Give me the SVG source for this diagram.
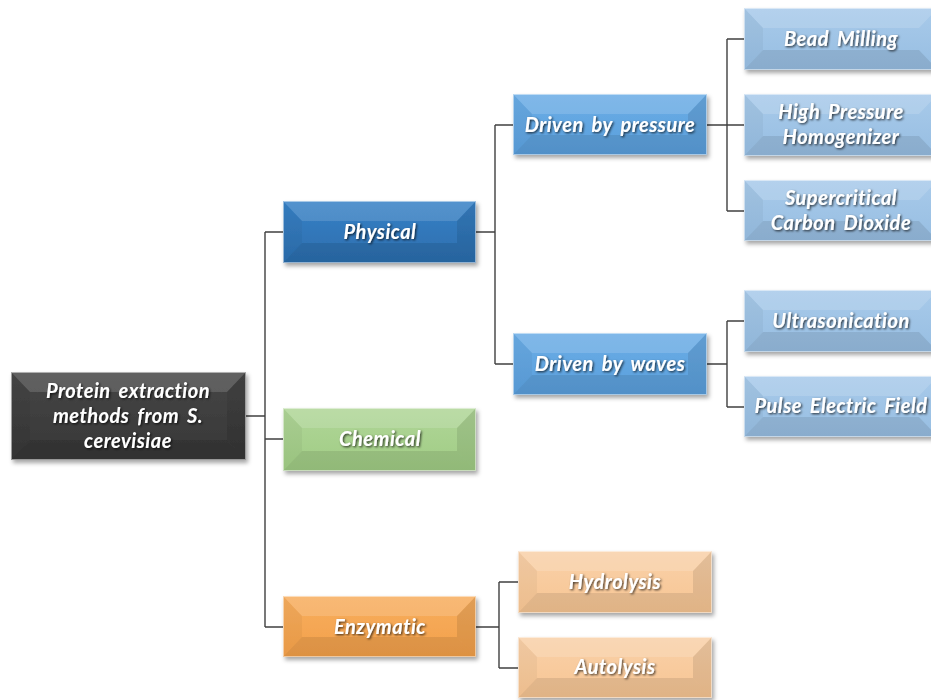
<svg xmlns="http://www.w3.org/2000/svg" width="931" height="700" viewBox="0 0 931 700">
<defs>
<filter id="ds" x="-10%" y="-20%" width="125%" height="150%">
<feDropShadow dx="2" dy="3" stdDeviation="2" flood-color="#000" flood-opacity="0.35"/>
</filter>
<filter id="ts" x="-10%" y="-30%" width="120%" height="160%">
<feDropShadow dx="1.2" dy="1.2" stdDeviation="0.9" flood-color="#000" flood-opacity="0.75"/>
</filter>
<linearGradient id="gRoot" x1="0" y1="0" x2="0" y2="1"><stop offset="0" stop-color="#474747"/><stop offset="1" stop-color="#363636"/></linearGradient>
<linearGradient id="gPhys" x1="0" y1="0" x2="0" y2="1"><stop offset="0" stop-color="#3781c6"/><stop offset="1" stop-color="#2c6eae"/></linearGradient>
<linearGradient id="gDrv" x1="0" y1="0" x2="0" y2="1"><stop offset="0" stop-color="#6bade6"/><stop offset="1" stop-color="#5a9fdc"/></linearGradient>
<linearGradient id="gLeaf" x1="0" y1="0" x2="0" y2="1"><stop offset="0" stop-color="#a8caea"/><stop offset="1" stop-color="#97bee2"/></linearGradient>
<linearGradient id="gChem" x1="0" y1="0" x2="0" y2="1"><stop offset="0" stop-color="#b0d698"/><stop offset="1" stop-color="#a0cc84"/></linearGradient>
<linearGradient id="gEnz" x1="0" y1="0" x2="0" y2="1"><stop offset="0" stop-color="#f7ae5f"/><stop offset="1" stop-color="#f3a049"/></linearGradient>
<linearGradient id="gSub" x1="0" y1="0" x2="0" y2="1"><stop offset="0" stop-color="#f9d1a9"/><stop offset="1" stop-color="#f7c593"/></linearGradient>
</defs>
<style>
.lbl{font-family:Lato,"Open Sans","Liberation Sans",sans-serif;font-weight:bold;font-style:italic;font-size:20px;letter-spacing:0.5px;word-spacing:3px;fill:#fff;text-anchor:middle;filter:url(#ts)}
.tf{fill:#fff;opacity:0.14}
.bf{fill:#000;opacity:0.09}
.sf{fill:#000;opacity:0.04}
.edge{stroke:rgba(255,255,255,0.5);stroke-width:1;fill:none}
.con{stroke:#404040;stroke-width:1.4;fill:none}
</style>

<g id="connectors">
<path class="con" d="M246 416 H265 M265 232 V627 M265 232 H283 M265 439 H283 M265 627 H283"/>
<path class="con" d="M476 232 H495 M495 125 V364 M495 125 H513 M495 364 H513"/>
<path class="con" d="M707 125 H727 M727 39 V211 M727 39 H744 M727 125 H744 M727 211 H744"/>
<path class="con" d="M707 364 H727 M727 321 V407 M727 321 H744 M727 407 H744"/>
<path class="con" d="M476 627 H499 M499 582 V668 M499 582 H518 M499 668 H518"/>
</g>

<g id="root">
<g filter="url(#ds)">
<rect x="11" y="372" width="235" height="88" fill="url(#gRoot)"/>
<polygon class="tf" points="11,372 246,372 227,392 30,392"/>
<polygon class="bf" points="11,460 246,460 227,440 30,440"/>
<polygon class="sf" points="11,372 30,392 30,440 11,460"/>
<polygon class="bf" points="246,372 227,392 227,440 246,460"/>
<rect class="edge" x="11.5" y="372.5" width="234" height="87"/>
</g>
<text class="lbl" x="128" y="398">Protein extraction</text><text class="lbl" x="128" y="423">methods from S.</text><text class="lbl" x="128" y="448">cerevisiae</text>
</g>

<g id="physical">
<g filter="url(#ds)">
<rect x="283" y="201" width="193" height="62" fill="url(#gPhys)"/>
<polygon class="tf" points="283,201 476,201 457,221 302,221"/>
<polygon class="bf" points="283,263 476,263 457,243 302,243"/>
<polygon class="sf" points="283,201 302,221 302,243 283,263"/>
<polygon class="bf" points="476,201 457,221 457,243 476,263"/>
<rect class="edge" x="283.5" y="201.5" width="192" height="61"/>
</g>
<text class="lbl" x="380" y="239">Physical</text>
</g>

<g id="chemical">
<g filter="url(#ds)">
<rect x="283" y="408" width="193" height="63" fill="url(#gChem)"/>
<polygon class="tf" points="283,408 476,408 457,428 302,428"/>
<polygon class="bf" points="283,471 476,471 457,451 302,451"/>
<polygon class="sf" points="283,408 302,428 302,451 283,471"/>
<polygon class="bf" points="476,408 457,428 457,451 476,471"/>
<rect class="edge" x="283.5" y="408.5" width="192" height="62"/>
</g>
<text class="lbl" x="380" y="446">Chemical</text>
</g>

<g id="enzymatic">
<g filter="url(#ds)">
<rect x="283" y="596" width="193" height="61" fill="url(#gEnz)"/>
<polygon class="tf" points="283,596 476,596 457,616 302,616"/>
<polygon class="bf" points="283,657 476,657 457,637 302,637"/>
<polygon class="sf" points="283,596 302,616 302,637 283,657"/>
<polygon class="bf" points="476,596 457,616 457,637 476,657"/>
<rect class="edge" x="283.5" y="596.5" width="192" height="60"/>
</g>
<text class="lbl" x="380" y="634">Enzymatic</text>
</g>

<g id="pressure">
<g filter="url(#ds)">
<rect x="513" y="94" width="194" height="61" fill="url(#gDrv)"/>
<polygon class="tf" points="513,94 707,94 688,114 532,114"/>
<polygon class="bf" points="513,155 707,155 688,135 532,135"/>
<polygon class="sf" points="513,94 532,114 532,135 513,155"/>
<polygon class="bf" points="707,94 688,114 688,135 707,155"/>
<rect class="edge" x="513.5" y="94.5" width="193" height="60"/>
</g>
<text class="lbl" x="610" y="132">Driven by pressure</text>
</g>

<g id="waves">
<g filter="url(#ds)">
<rect x="513" y="333" width="194" height="62" fill="url(#gDrv)"/>
<polygon class="tf" points="513,333 707,333 688,353 532,353"/>
<polygon class="bf" points="513,395 707,395 688,375 532,375"/>
<polygon class="sf" points="513,333 532,353 532,375 513,395"/>
<polygon class="bf" points="707,333 688,353 688,375 707,395"/>
<rect class="edge" x="513.5" y="333.5" width="193" height="61"/>
</g>
<text class="lbl" x="610" y="371">Driven by waves</text>
</g>

<g id="bead">
<g filter="url(#ds)">
<rect x="744" y="8" width="194" height="62" fill="url(#gLeaf)"/>
<polygon class="tf" points="744,8 938,8 919,28 763,28"/>
<polygon class="bf" points="744,70 938,70 919,50 763,50"/>
<polygon class="sf" points="744,8 763,28 763,50 744,70"/>
<rect class="edge" x="744.5" y="8.5" width="193" height="61"/>
</g>
<text class="lbl" x="841" y="46">Bead Milling</text>
</g>

<g id="hph">
<g filter="url(#ds)">
<rect x="744" y="94" width="194" height="62" fill="url(#gLeaf)"/>
<polygon class="tf" points="744,94 938,94 919,114 763,114"/>
<polygon class="bf" points="744,156 938,156 919,136 763,136"/>
<polygon class="sf" points="744,94 763,114 763,136 744,156"/>
<rect class="edge" x="744.5" y="94.5" width="193" height="61"/>
</g>
<text class="lbl" x="841" y="119">High Pressure</text>
<text class="lbl" x="841" y="144">Homogenizer</text>
</g>

<g id="sco2">
<g filter="url(#ds)">
<rect x="744" y="180" width="194" height="61" fill="url(#gLeaf)"/>
<polygon class="tf" points="744,180 938,180 919,200 763,200"/>
<polygon class="bf" points="744,241 938,241 919,221 763,221"/>
<polygon class="sf" points="744,180 763,200 763,221 744,241"/>
<rect class="edge" x="744.5" y="180.5" width="193" height="60"/>
</g>
<text class="lbl" x="841" y="205">Supercritical</text>
<text class="lbl" x="841" y="230">Carbon Dioxide</text>
</g>

<g id="ultra">
<g filter="url(#ds)">
<rect x="744" y="290" width="194" height="62" fill="url(#gLeaf)"/>
<polygon class="tf" points="744,290 938,290 919,310 763,310"/>
<polygon class="bf" points="744,352 938,352 919,332 763,332"/>
<polygon class="sf" points="744,290 763,310 763,332 744,352"/>
<rect class="edge" x="744.5" y="290.5" width="193" height="61"/>
</g>
<text class="lbl" x="841" y="328">Ultrasonication</text>
</g>

<g id="pef">
<g filter="url(#ds)">
<rect x="744" y="376" width="194" height="61" fill="url(#gLeaf)"/>
<polygon class="tf" points="744,376 938,376 919,396 763,396"/>
<polygon class="bf" points="744,437 938,437 919,417 763,417"/>
<polygon class="sf" points="744,376 763,396 763,417 744,437"/>
<rect class="edge" x="744.5" y="376.5" width="193" height="60"/>
</g>
<text class="lbl" x="841" y="413">Pulse Electric Field</text>
</g>

<g id="hydrolysis">
<g filter="url(#ds)">
<rect x="518" y="551" width="194" height="62" fill="url(#gSub)"/>
<polygon class="tf" points="518,551 712,551 693,571 537,571"/>
<polygon class="bf" points="518,613 712,613 693,593 537,593"/>
<polygon class="sf" points="518,551 537,571 537,593 518,613"/>
<polygon class="bf" points="712,551 693,571 693,593 712,613"/>
<rect class="edge" x="518.5" y="551.5" width="193" height="61"/>
</g>
<text class="lbl" x="615" y="589">Hydrolysis</text>
</g>

<g id="autolysis">
<g filter="url(#ds)">
<rect x="518" y="637" width="194" height="61" fill="url(#gSub)"/>
<polygon class="tf" points="518,637 712,637 693,657 537,657"/>
<polygon class="bf" points="518,698 712,698 693,678 537,678"/>
<polygon class="sf" points="518,637 537,657 537,678 518,698"/>
<polygon class="bf" points="712,637 693,657 693,678 712,698"/>
<rect class="edge" x="518.5" y="637.5" width="193" height="60"/>
</g>
<text class="lbl" x="615" y="674">Autolysis</text>
</g>
</svg>
